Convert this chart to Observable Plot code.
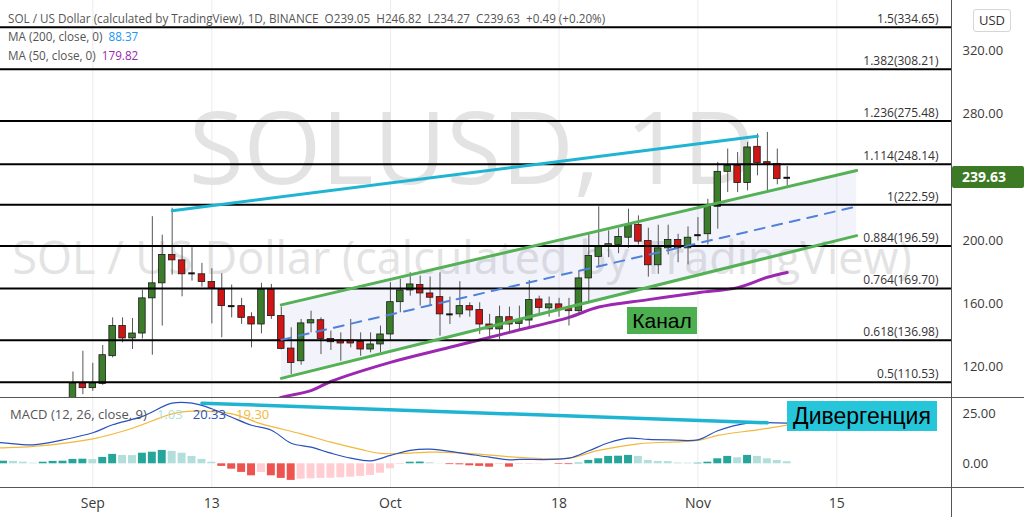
<!DOCTYPE html>
<html><head><meta charset="utf-8">
<script src="https://cdn.jsdelivr.net/npm/d3@7"></script>
<script src="https://cdn.jsdelivr.net/npm/@observablehq/plot@0.6"></script>
<style>
body{margin:0;background:#fff;}
#wrap{position:relative;width:1024px;height:517px;overflow:hidden;background:#fff;font-family:"Open Sans",sans-serif;}
#price,#macd{position:absolute;left:0;}
#price{top:0;} #macd{top:397px;}
.ov{position:absolute;white-space:pre;line-height:1;}
.hl{position:absolute;background:#555;}
</style></head><body><div id="wrap">
<div id="price"></div><div id="macd"></div>
</div>
<script>
// ---------- DATA ----------
const candleStart = "2021-08-30";
const candleOpen  = [98.0,109.8,106.8,109.5,127.0,146.0,138.2,141.3,163.5,173.0,190.9,187.5,179.3,178.7,173.8,169.1,158.6,158.6,151.6,147.0,169.1,152.3,131.8,123.8,147.7,149.7,137.9,136.9,136.9,136.0,131.2,134.4,140.7,161.1,168.5,171.9,166.6,164.3,153.4,153.4,158.6,156.1,147.0,143.9,151.6,147.4,149.5,162.8,157.2,159.7,156.7,155.4,176.1,189.7,196.0,197.2,201.8,209.9,199.7,184.4,195.1,200.4,195.1,203.4,204.0,221.3,243.4,247.2,236.3,259.2,249.5,248.3,239.05];
const candleHigh  = [117.0,130.1,122.5,133.7,151.2,151.2,150.8,168.5,215.1,203.4,220.4,195.5,195.5,185.6,182.2,179.0,171.9,163.5,154.4,173.0,172.3,158.0,144.9,150.2,155.4,151.2,142.8,141.7,150.2,141.7,141.7,146.0,173.4,175.5,179.7,177.6,177.0,179.7,164.3,174.0,160.7,160.7,153.4,158.6,158.0,158.6,174.8,164.9,164.3,163.5,163.5,180.8,204.0,221.3,206.1,207.5,219.8,215.6,207.8,209.7,209.7,204.0,208.6,214.5,226.1,249.3,257.8,255.6,262.0,267.3,268.3,257.8,246.82];
const candleLow   = [95.0,102.7,104.8,108.6,125.9,135.4,131.2,137.9,127.6,146.0,178.2,164.5,174.4,170.6,147.4,138.6,151.2,147.0,132.2,141.1,150.2,131.0,115.4,121.3,141.7,128.0,130.6,123.8,132.2,126.9,129.1,129.1,136.5,154.4,164.9,158.6,158.6,139.6,147.0,151.2,151.6,140.7,138.6,137.5,141.1,142.8,145.3,152.3,151.6,151.6,146.0,152.9,160.7,182.9,189.2,191.7,195.1,197.2,176.9,178.7,190.9,186.0,184.6,199.7,197.2,207.2,230.3,230.3,231.4,240.9,231.0,235.2,234.27];
const candleClose = [109.8,106.8,109.8,127.6,146.0,138.2,141.3,163.5,173.0,190.9,187.5,178.7,179.3,173.8,169.6,158.6,158.6,151.2,147.0,169.1,152.3,131.6,122.7,147.7,149.7,137.9,135.8,135.0,135.0,131.2,134.4,140.7,161.1,168.5,172.3,166.6,163.9,153.4,153.4,158.6,155.9,147.0,143.9,151.6,147.0,149.5,162.4,157.5,159.7,156.5,155.4,176.1,190.3,196.0,197.7,202.3,209.9,199.3,184.4,195.1,200.4,195.1,201.8,203.4,221.3,243.4,247.2,236.3,258.8,248.9,248.5,238.8,239.63];

const ma50Dates  = ["2021-09-19","2021-09-20","2021-09-23","2021-09-25","2021-10-01","2021-10-07","2021-10-13","2021-10-19","2021-10-22","2021-10-27","2021-11-01","2021-11-05","2021-11-08","2021-11-10"];
const ma50Values = [98.0,100.9,105.2,111.0,123.1,132.6,142.0,151.5,158.0,162.7,167.1,170.3,176.8,179.82];

const fibLevels = ["1.5","1.382","1.236","1.114","1","0.884","0.764","0.618","0.5"];
const fibPrices = [334.65,308.21,275.48,248.14,222.59,196.59,169.70,136.98,110.53];

const channelDates = ["2021-09-20","2021-11-17"];
const channelUpper = [159.4,244.2];
const channelMid   = [137.3,221.5];
const channelLower = [113.0,203.1];

const trendDates  = ["2021-09-09","2021-11-07"];
const trendPrices = [218.9,265.9];

const histStart  = "2021-08-23";
const histValues = [1.3,1.2,0.8,0.3,0.8,1.2,1.3,2.2,2.3,2.1,3.2,4.7,4.2,4.1,5.3,5.8,6.7,6.2,5.3,3.7,2.2,0.8,-1.3,-2.7,-4.3,-6.0,-4.3,-6.0,-7.3,-8.3,-7.7,-7.5,-7.3,-7.2,-7.0,-6.7,-6.3,-5.8,-4.7,-2.5,-0.3,0.8,0.9,0.5,0.1,-0.4,-0.5,-1.0,-1.3,-1.7,-0.4,-1.7,-0.3,-0.3,-0.2,0.0,-0.3,-0.4,0.3,1.7,2.5,3.7,3.8,4.2,3.7,1.7,1.2,1.1,0.4,0.3,0.3,0.8,2.5,3.7,3.0,4.2,3.7,2.5,1.7,1.03];

const macdDates  = ["2021-08-22","2021-08-23","2021-08-26","2021-08-29","2021-09-01","2021-09-03","2021-09-06","2021-09-09","2021-09-11","2021-09-13","2021-09-15","2021-09-17","2021-09-19","2021-09-21","2021-09-23","2021-09-25","2021-09-27","2021-09-29","2021-10-01","2021-10-03","2021-10-05","2021-10-08","2021-10-11","2021-10-13","2021-10-14","2021-10-19","2021-10-21","2021-10-23","2021-10-25","2021-10-27","2021-10-29","2021-11-01","2021-11-03","2021-11-06","2021-11-08","2021-11-10"];
const macdValues = [10.8,10.5,9.5,12.0,15.5,19.5,23.7,30.3,30.3,27.5,23.3,19.3,16.8,10.3,8.3,5.3,2.8,1.5,4.2,6.7,7.3,5.5,3.3,2.0,2.2,2.8,6.5,10.5,12.8,12.2,12.0,12.0,16.5,20.3,20.6,20.33];

const signalDates  = ["2021-08-22","2021-08-23","2021-08-26","2021-09-01","2021-09-05","2021-09-09","2021-09-11","2021-09-15","2021-09-18","2021-09-22","2021-09-25","2021-09-28","2021-09-30","2021-10-03","2021-10-05","2021-10-08","2021-10-14","2021-10-19","2021-10-22","2021-10-26","2021-11-01","2021-11-03","2021-11-07","2021-11-10"];
const signalValues = [7.9,8.0,8.7,12.5,17.8,25.0,26.3,25.0,20.0,15.0,10.8,7.2,5.2,5.3,5.8,5.5,3.2,2.8,6.7,10.0,11.7,14.2,17.0,19.30];

const macdTrendDates  = ["2021-09-12","2021-11-08"];
const macdTrendValues = [30.3,20.5];

const priceTicks = [120,160,200,280,320];
const macdTicks  = [0,25];
const timeTicks  = ["2021-09-01","2021-09-13","2021-10-01","2021-10-18","2021-11-01","2021-11-15"];
const timeTickLabels = ["Sep","13","Oct","18","Nov","15"];

const headerTitle = "SOL / US Dollar (calculated by TradingView), 1D, BINANCE";
const headerOHLC  = ["O239.05","H246.82","L234.27","C239.63","+0.49 (+0.20%)"];
const maLabels = ["MA (200, close, 0)","MA (50, close, 0)"];
const maValues = ["88.37","179.82"];
const macdLabel = "MACD (12, 26, close, 9)";
const macdLegendValues = ["1.03","20.33","19.30"];

// ---------- BUILD ----------
const DAY = 864e5;
const d0 = Date.parse(candleStart);
const candles = candleOpen.map((o,i)=>({date:new Date(d0+i*DAY),open:o,high:candleHigh[i],low:candleLow[i],close:candleClose[i]}));
const dojis = candles.filter(d=>Math.abs(d.close-d.open)<0.8);
const bodies = candles.filter(d=>Math.abs(d.close-d.open)>=0.8);
const ma50 = ma50Dates.map((d,i)=>({date:new Date(d),v:ma50Values[i]}));
const fib = fibPrices.map((p,i)=>({price:p,label:`${fibLevels[i]}(${p.toFixed(2)})`}));
const channel = channelDates.map((d,i)=>({date:new Date(d),up:channelUpper[i],mid:channelMid[i],lo:channelLower[i]}));
const trend = trendDates.map((d,i)=>({date:new Date(d),v:trendPrices[i]}));
const h0 = Date.parse(histStart);
const hist = histValues.map((v,i)=>{
  const prev = i>0?histValues[i-1]:v;
  const col = v>=0 ? (v>=prev?"#26a69a":"#b2dfdb") : (v<prev?"#ef5350":"#ffcdd2");
  return {date:new Date(h0+i*DAY),v,col};
});
const macd = macdDates.map((d,i)=>({date:new Date(d),v:macdValues[i]}));
const signal = signalDates.map((d,i)=>({date:new Date(d),v:signalValues[i]}));
const macdTrend = macdTrendDates.map((d,i)=>({date:new Date(d),v:macdTrendValues[i]}));
const tickDates = timeTicks.map(d=>new Date(d));
const tickLabelMap = new Map(timeTicks.map((d,i)=>[d,timeTickLabels[i]]));

const xDomain = [new Date(d0-7.305*DAY), new Date(d0+88.56*DAY)];
const FONT = "Open Sans, sans-serif";
const GREEN = "#3c7d2b", RED = "#d01515";
const half = 0.33*DAY;

const priceChart = Plot.plot({
  width:1024, height:397, marginLeft:0, marginRight:73, marginTop:0, marginBottom:0,
  style:{fontFamily:FONT, fontSize:"13px", color:"#3a3a3a", background:"transparent", overflow:"visible"},
  x:{type:"utc", domain:xDomain, axis:null},
  y:{domain:[100.9,351.6], axis:null},
  marks:[
    Plot.ruleX(tickDates,{stroke:"#ececec"}),
    Plot.text(["SOLUSD, 1D"],{frameAnchor:"top", dx:-4, dy:151, fontSize:100, fill:"#e3e3e3", lineAnchor:"middle", fontFamily:FONT}),
    Plot.text(["SOL / US Dollar (calculated by TradingView)"],{frameAnchor:"top", dx:-14, dy:259, fontSize:45, fill:"#e3e3e3", lineAnchor:"middle", fontFamily:FONT}),
    Plot.areaY(channel,{x:"date", y1:"lo", y2:"up", fill:"#6a6ad8", fillOpacity:0.08}),
    Plot.line(ma50,{x:"date", y:"v", stroke:"#9c27b0", strokeWidth:3, curve:"catmull-rom", clip:true}),
    Plot.ruleX(candles,{x:"date", y1:"low", y2:"high", stroke:"#555", strokeWidth:1, clip:true}),
    Plot.rect(bodies,{x1:d=>new Date(+d.date-half), x2:d=>new Date(+d.date+half), y1:"open", y2:"close", fill:d=>d.close>d.open?GREEN:RED, stroke:"#1a1a1a", strokeWidth:0.8, clip:true}),
    Plot.ruleY(dojis,{y:"close", x1:d=>new Date(+d.date-half), x2:d=>new Date(+d.date+half), stroke:"#111", strokeWidth:2}),
    Plot.ruleY(fib,{y:"price", stroke:"#000", strokeWidth:2}),
    Plot.text(fib,{y:"price", text:"label", frameAnchor:"right", textAnchor:"end", dx:-13, dy:-8, fontSize:12, fill:"#333"}),
    Plot.line(channel,{x:"date", y:"up", stroke:"#55b155", strokeWidth:3}),
    Plot.line(channel,{x:"date", y:"lo", stroke:"#55b155", strokeWidth:3}),
    Plot.line(channel,{x:"date", y:"mid", stroke:"#4f82d8", strokeWidth:2, strokeDasharray:"10,8"}),
    Plot.line(trend,{x:"date", y:"v", stroke:"#1fb5d2", strokeWidth:3}),
    Plot.axisY({anchor:"right", ticks:priceTicks, tickFormat:d=>d.toFixed(2), tickSize:0, tickPadding:11, fontSize:13, label:null})
  ]
});
document.getElementById("price").appendChild(priceChart);

const macdChart = Plot.plot({
  width:1024, height:120, marginLeft:0, marginRight:73, marginTop:0, marginBottom:30,
  style:{fontFamily:FONT, fontSize:"13px", color:"#3a3a3a", background:"transparent", overflow:"visible"},
  x:{type:"utc", domain:xDomain, axis:null},
  y:{domain:[-11.85,33.15], axis:null},
  marks:[
    Plot.ruleX(tickDates,{stroke:"#ececec"}),
    Plot.rect(hist,{x1:d=>new Date(+d.date-0.4*DAY), x2:d=>new Date(+d.date+0.4*DAY), y1:0, y2:"v", fill:"col", clip:true}),
    Plot.line(signal,{x:"date", y:"v", stroke:"#f2b83a", strokeWidth:1.2, curve:"catmull-rom", clip:true}),
    Plot.line(macd,{x:"date", y:"v", stroke:"#2a52be", strokeWidth:1.2, curve:"catmull-rom", clip:true}),
    Plot.line(macdTrend,{x:"date", y:"v", stroke:"#1fb5d2", strokeWidth:3.5}),
    Plot.axisY({anchor:"right", ticks:macdTicks, tickFormat:d=>d.toFixed(2), tickSize:0, tickPadding:11, fontSize:13, label:null}),
    Plot.axisX({anchor:"bottom", ticks:tickDates, tickFormat:d=>tickLabelMap.get(d.toISOString().slice(0,10)), tickSize:0, tickPadding:11, fontSize:14, label:null})
  ]
});
document.getElementById("macd").appendChild(macdChart);

// ---------- OVERLAYS ----------
const wrap = document.getElementById("wrap");
function add(html, style){const e=document.createElement("div");e.className="ov";e.style.cssText=style;e.innerHTML=html;wrap.appendChild(e);return e;}
function line(style){const e=document.createElement("div");e.className="hl";e.style.cssText=style;wrap.appendChild(e);}
line("left:0;top:397px;width:1024px;height:1px;");
line("left:0;top:487px;width:1024px;height:1px;");
line("left:951px;top:0;width:1px;height:517px;");

const hs = `font-family:${FONT};font-size:11.7px;color:#555;`;
add(`${headerTitle}  ${headerOHLC.join("  ")}`, `left:8px;top:13px;${hs}`);
add(`${maLabels[0]}  <span style="color:#2196f3">${maValues[0]}</span>`, `left:8px;top:31px;${hs}`);
add(`${maLabels[1]}  <span style="color:#9c27b0">${maValues[1]}</span>`, `left:8px;top:50px;${hs}`);
add(`${macdLabel}   <span style="color:#b2dfdb">${macdLegendValues[0]}</span>   <span style="color:#2a52be">${macdLegendValues[1]}</span>   <span style="color:#f2b83a">${macdLegendValues[2]}</span>`, `left:10px;top:408px;font-family:${FONT};font-size:13px;color:#555;`);

add("USD", `left:973px;top:9px;width:36px;height:21px;border:1px solid #d6d6d6;border-radius:3px;font-family:${FONT};font-size:13px;color:#333;text-align:center;line-height:21px;`);
const lastClose = candleClose[candleClose.length-1];
const yLast = priceChart.scale("y").apply(lastClose);
add(lastClose.toFixed(2), `left:952px;top:${yLast-11}px;width:72px;height:22px;background:#3d7a25;border-radius:2px;color:#fff;font-family:${FONT};font-size:14px;font-weight:bold;line-height:22px;text-indent:10px;`);

add("Канал", `left:627px;top:307px;width:70px;height:27px;background:#4caf50;color:#000;font-family:'Liberation Sans',sans-serif;font-size:21px;text-align:center;line-height:27px;`);
add("Дивергенция", `left:787px;top:401px;width:150px;height:30px;background:#26c6da;color:#000;font-family:'Liberation Sans',sans-serif;font-size:23px;text-align:center;line-height:30px;`);
</script></body></html>
